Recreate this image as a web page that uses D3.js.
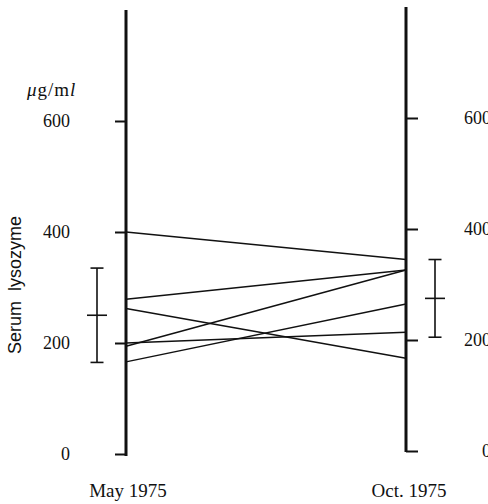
<!DOCTYPE html>
<html><head><meta charset="utf-8">
<script src="https://cdn.jsdelivr.net/npm/d3@7"></script>
<style>
html,body{margin:0;padding:0;background:#fff;}
svg{display:block;}
text{fill:#111;}
</style></head>
<body><svg id="c" width="488" height="504"></svg>
<script>
const periods = ["May 1975", "Oct. 1975"];
const mayValues = [400, 279, 262, 194, 200, 166];
const octValues = [345, 326, 167, 326, 214, 265];
const meanValues = [250, 275];
const sdValues = [85, 70];
const tickValues = [0, 200, 400, 600];
const yTitle = "Serum  lysozyme";

const serif = "'Liberation Serif', 'Times New Roman', serif";
const sans = "'Liberation Sans', Arial, sans-serif";

const svg = d3.select("#c");
const x = d3.scalePoint().domain(periods).range([126, 406]);
const yL = d3.scaleLinear().domain([0, 800]).range([454, 10]);
const yR = d3.scaleLinear().domain([0, 800]).range([451, 7]);
const scales = [yL, yR];

// axes ticks
const axL = svg.append("g").attr("transform", `translate(${x(periods[0])},0)`)
  .call(d3.axisLeft(yL).tickValues(tickValues).tickSize(11).tickSizeOuter(0).tickPadding(45).tickFormat(d3.format("d")));
const axR = svg.append("g").attr("transform", `translate(${x(periods[1])},0)`)
  .call(d3.axisRight(yR).tickValues(tickValues).tickSize(12).tickSizeOuter(0).tickPadding(45).tickFormat(d3.format("d")));
[axL, axR].forEach(g => {
  g.select(".domain").remove();
  g.attr("font-family", serif);
  g.selectAll(".tick line").attr("stroke", "#111").attr("stroke-width", 2);
  g.selectAll(".tick text").attr("font-size", 18).attr("fill", "#111").attr("font-family", serif);
});
axR.selectAll(".tick text").attr("text-anchor", "end").attr("x", 85);

// thick vertical axis lines
svg.append("line").attr("x1", x(periods[0])).attr("x2", x(periods[0]))
  .attr("y1", yL(800)).attr("y2", yL(0) + 2).attr("stroke", "#111").attr("stroke-width", 3);
svg.append("line").attr("x1", x(periods[1])).attr("x2", x(periods[1]))
  .attr("y1", yR(800)).attr("y2", yR(0) + 1).attr("stroke", "#111").attr("stroke-width", 3);

// patient lines
const pairs = mayValues.map((v, i) => [v, octValues[i]]);
svg.append("g").selectAll("line").data(pairs).join("line")
  .attr("x1", x(periods[0])).attr("x2", x(periods[1]))
  .attr("y1", d => yL(d[0])).attr("y2", d => yR(d[1]))
  .attr("stroke", "#111").attr("stroke-width", 1.5);

// error bars
const ebOffset = [-29, 29];
periods.forEach((p, i) => {
  const cx = x(p) + ebOffset[i];
  const ys = scales[i];
  const g = svg.append("g").attr("stroke", "#111").attr("stroke-width", 1.6);
  g.append("line").attr("x1", cx).attr("x2", cx).attr("y1", ys(meanValues[i] + sdValues[i])).attr("y2", ys(meanValues[i] - sdValues[i]));
  [meanValues[i] + sdValues[i], meanValues[i] - sdValues[i]].forEach(v => {
    g.append("line").attr("x1", cx - 6.5).attr("x2", cx + 6.5).attr("y1", ys(v)).attr("y2", ys(v));
  });
  g.append("line").attr("x1", cx - 10).attr("x2", cx + 10).attr("y1", ys(meanValues[i])).attr("y2", ys(meanValues[i]));
});

// period labels
svg.append("g").selectAll("text").data(periods).join("text")
  .attr("x", (d, i) => x(d) + [2, 3][i]).attr("y", 497)
  .attr("font-family", serif)
  .attr("text-anchor", "middle").attr("font-size", 19).text(d => d);

// unit label
const u = svg.append("text").attr("x", 27).attr("y", 96).attr("font-size", 19)
  .attr("font-family", serif).attr("letter-spacing", 1);
u.append("tspan").attr("font-style", "italic").text("μ");
u.append("tspan").text("g/m");
u.append("tspan").attr("font-style", "italic").text("l");

// y title
svg.append("text").attr("transform", "translate(21,285) rotate(-90)")
  .attr("text-anchor", "middle").attr("font-size", 18)
  .attr("font-family", sans).style("white-space", "pre")
  .text(yTitle);
</script></body></html>
